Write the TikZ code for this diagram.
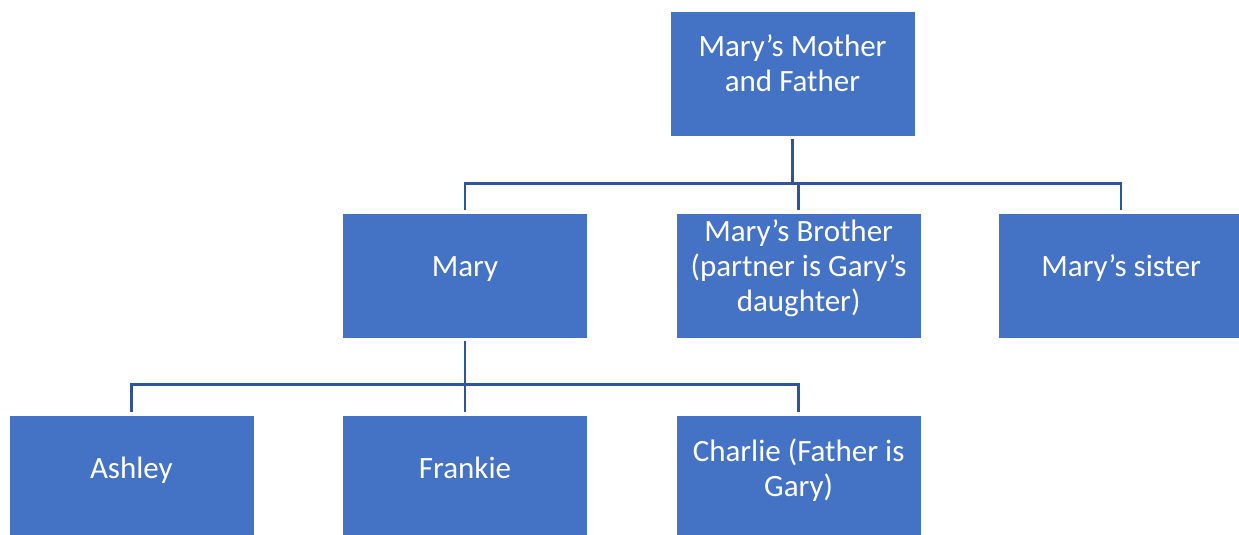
\documentclass[tikz,border=0pt]{standalone}
\usepackage{fontspec}
\setmainfont{Carlito}
\usetikzlibrary{positioning}

\definecolor{boxblue}{HTML}{4472C4}
\definecolor{lineblue}{HTML}{2F5597}

% centred block of lines, of no height of its own
\newcommand{\whobox}[1]{\begin{tabular}{@{}c@{}}#1\end{tabular}}

\tikzset{
  person/.style={rectangle, fill=boxblue, draw=white, line width=0.6pt,
    minimum width=245pt, minimum height=125pt, inner sep=0pt,
    text=white, text height=0pt, text depth=0pt,
    font=\fontsize{31}{35}\selectfont},
  link/.style={draw=lineblue, line width=2.4pt, shorten <=3pt, shorten >=3pt},
}

\begin{document}
\begin{tikzpicture}[x=1pt, y=1pt, node distance=88pt]
    \useasboundingbox (0,0) rectangle (1239,-535);

    \node [person] (parents) at (792.5,-73.5) {\whobox{Mary’s Mother\\and Father}};
    \node [person] (mary) at (465,-275.5) {\whobox{Mary}};
    \node [person, right=of mary] (brother) {\whobox{Mary’s Brother\\(partner is Gary’s\\daughter)}};
    \node [person, right=77pt of brother] (sister) {\whobox{Mary’s sister}};
    \node [person, below=77pt of mary] (frankie) {\whobox{Frankie}};
    \node [person, left=of frankie] (ashley) {\whobox{Ashley}};
    \node [person, right=of frankie] (charlie) {\whobox{Charlie (Father is\\Gary)}};

    \foreach \kid in {mary, brother, sister}
      \draw [link] (parents.south) -- ++(0,-47) -| (\kid.north);
    \foreach \kid in {ashley, frankie, charlie}
      \draw [link] (mary.south) -- ++(0,-46) -| (\kid.north);
\end{tikzpicture}
\end{document}
